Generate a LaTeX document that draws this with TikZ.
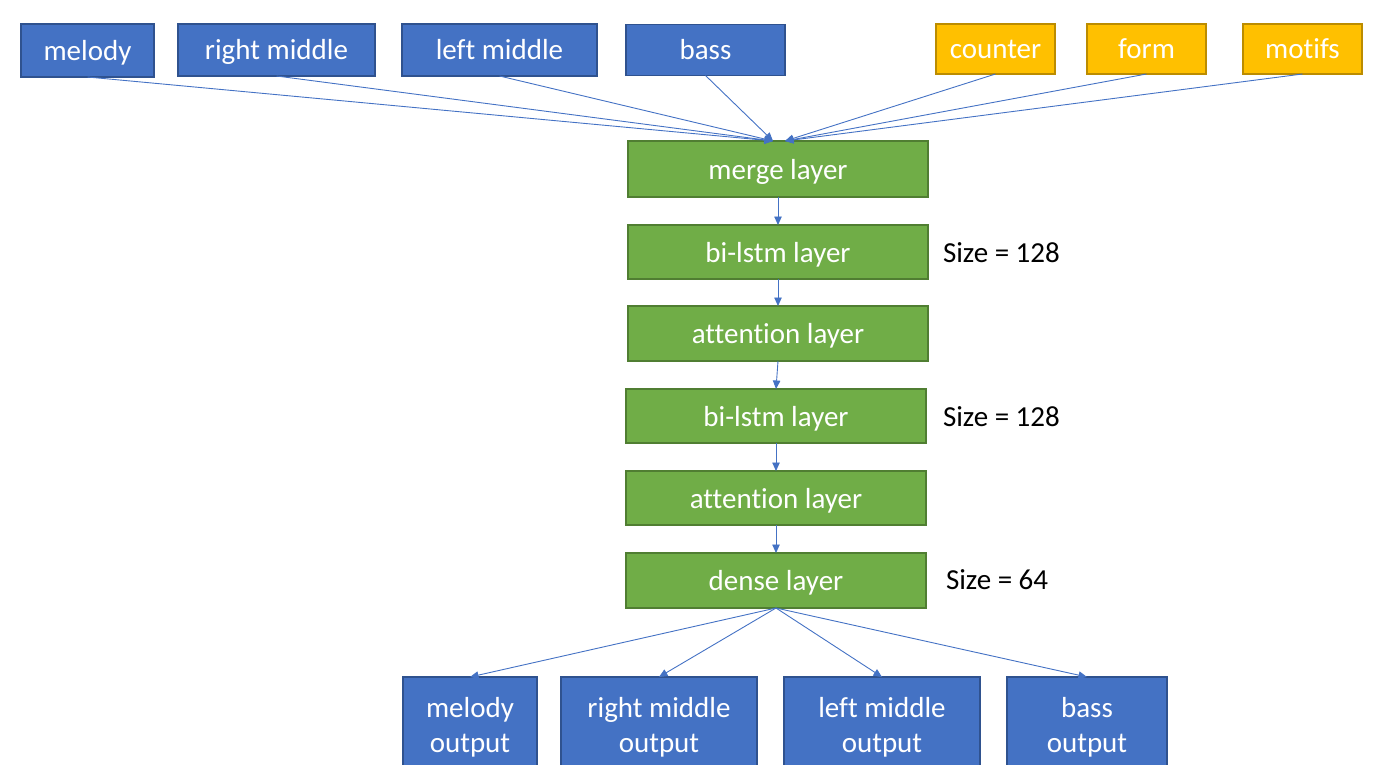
\documentclass[tikz,border=0pt]{standalone}
\usepackage{fontspec}
\setmainfont{Carlito}[Ligatures=NoCommon]
\usetikzlibrary{arrows.meta,calc}
\definecolor{inblue}{HTML}{4472C4}
\definecolor{inblueedge}{HTML}{2F528F}
\definecolor{layergreen}{HTML}{70AD47}
\definecolor{layergreenedge}{HTML}{507E32}
\definecolor{ctxgold}{HTML}{FFC000}
\definecolor{ctxgoldedge}{HTML}{BC8C00}
\definecolor{wire}{HTML}{4472C4}
\begin{document}
\begin{tikzpicture}[x=1pt,y=-1pt,
  every node/.style={font=\fontsize{29}{35}\selectfont, inner sep=0pt, outer sep=0pt},
  basebox/.style={draw, line width=1.4pt, text=white, align=center,
                  text height=23pt, text depth=3pt},
  inbox/.style={basebox, fill=inblue, draw=inblueedge},
  ctxbox/.style={basebox, fill=ctxgold, draw=ctxgoldedge},
  layerbox/.style={basebox, fill=layergreen, draw=layergreenedge,
                   minimum width=300pt},
  outbox/.style={draw, line width=1.4pt, text=white, align=center,
                 fill=inblue, draw=inblueedge, minimum height=100pt},
  sizelabel/.style={anchor=west, text=black, text height=23pt, text depth=3pt},
  link/.style={draw=wire, line width=0.9pt,
               -{Triangle[length=8.5pt,width=7.5pt]}}
]
\useasboundingbox (0,0) rectangle (1375,765);
\clip (0,0) rectangle (1375,765);

% input streams
\node[inbox, minimum width=133pt, minimum height=53pt] (melody) at (87.5,50.5) {melody};
\node[inbox, minimum width=197pt, minimum height=52pt] (rmid) at (276.5,50) {right middle};
\node[inbox, minimum width=195pt, minimum height=52pt] (lmid) at (499.5,50) {left middle};
\node[inbox, minimum width=159pt, minimum height=51pt] (bass) at (705.5,50) {bass};

% context features
\node[ctxbox, minimum width=119pt, minimum height=50pt] (counter) at (995.5,49) {counter};
\node[ctxbox, minimum width=119pt, minimum height=50pt] (form) at (1146.5,49) {form};
\node[ctxbox, minimum width=119pt, minimum height=50pt] (motifs) at (1302.5,49) {motifs};

% network layers
\node[layerbox, minimum height=56pt] (merge) at (778,169) {merge layer};
\node[layerbox, minimum height=54pt] (lstmA) at (778,252) {bi-lstm layer};
\node[layerbox, minimum height=55pt] (attA) at (778,333.5) {attention layer};
\node[layerbox, minimum height=54pt] (lstmB) at (776,416) {bi-lstm layer};
\node[layerbox, minimum height=54pt] (attB) at (776,498) {attention layer};
\node[layerbox, minimum height=55pt] (dense) at (776,580.5) {dense layer};

% layer sizes
\node[sizelabel] (sizeA) at (943,252) {Size = 128};
\node[sizelabel] (sizeB) at (943,416) {Size = 128};
\node[sizelabel] (sizeC) at (946,579) {Size = 64};

% outputs
\node[outbox, minimum width=134pt] (melodyout) at (470,727) {melody\\output};
\node[outbox, minimum width=196pt] (rmidout) at (659,727) {right middle\\output};
\node[outbox, minimum width=196pt] (lmidout) at (882,727) {left middle\\output};
\node[outbox, minimum width=160pt] (bassout) at (1087,727) {bass\\output};

% merge entry points
\coordinate (mergeL) at ($(merge.north)+(-5,0)$);
\coordinate (mergeR) at ($(merge.north)+(7,0)$);

% inputs into the merge layer
\draw[link] (melody.south) -- (mergeL);
\draw[link] (rmid.south) -- (mergeL);
\draw[link] (lmid.south) -- (mergeL);
\draw[link] (bass.south) -- (mergeL);
\draw[link] (counter.south) -- (mergeR);
\draw[link] (form.south) -- (mergeR);
\draw[link] (motifs.south) -- (mergeR);

% layer stack
\draw[link] (merge.south) -- (lstmA.north);
\draw[link] (lstmA.south) -- (attA.north);
\draw[link] (attA.south) -- (lstmB.north);
\draw[link] (lstmB.south) -- (attB.north);
\draw[link] (attB.south) -- (dense.north);

% dense layer to outputs
\draw[link] (dense.south) -- (melodyout.north);
\draw[link] (dense.south) -- (rmidout.north);
\draw[link] (dense.south) -- (lmidout.north);
\draw[link] (dense.south) -- (bassout.north);
\end{tikzpicture}
\end{document}
